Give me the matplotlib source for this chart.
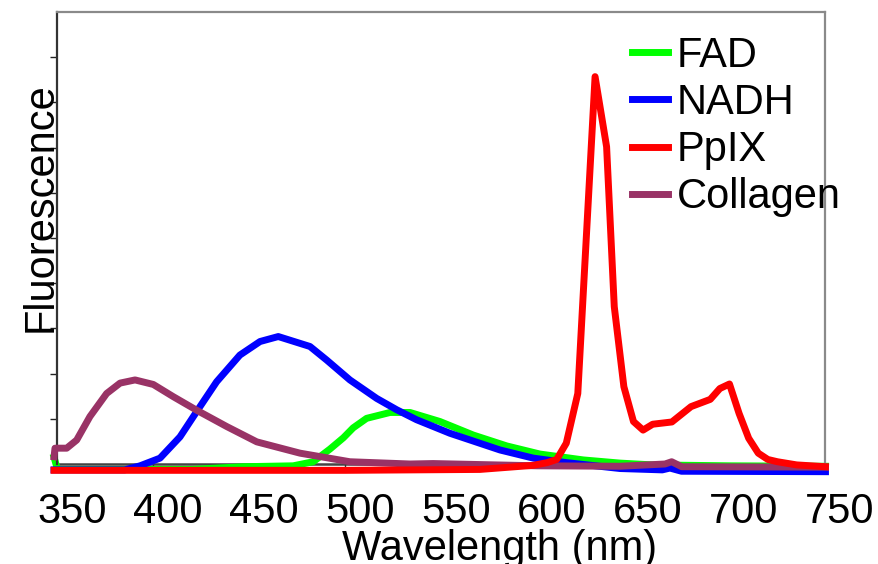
import numpy as np
import matplotlib
matplotlib.use('Agg')
import matplotlib.pyplot as plt
import matplotlib.transforms as mtransforms
from matplotlib.lines import Line2D

plt.rcParams['font.family'] = ['Liberation Sans', 'DejaVu Sans']

# FAD emission
fad_wl = [348.2, 350, 380, 420, 446.8, 472.8, 483.2, 491.9, 498.9, 504, 511, 523.2, 533.6,
          549.2, 566.6, 584, 601.3, 623.9, 643, 660, 700, 750]
fad_val = [0.015, -0.012, -0.012, -0.012, -0.006, -0.004, 0.005, 0.033, 0.058, 0.080, 0.101, 0.114, 0.114,
           0.094, 0.064, 0.040, 0.022, 0.009, 0.002, -0.002, -0.004, -0.005]

# NADH emission
nadh_wl = [348.2, 385, 393, 403.4, 413.8, 422.5, 432.9, 445, 455.5, 465, 481.5, 490.2, 502.3,
           516.3, 526.7, 537, 554.4, 580.5, 597.8, 615.2, 643, 665, 669, 675, 750]
nadh_val = [-0.013, -0.013, -0.004, 0.013, 0.060, 0.116, 0.182, 0.241, 0.271, 0.282, 0.260, 0.230, 0.186,
            0.145, 0.120, 0.098, 0.068, 0.031, 0.013, 0.003, -0.010, -0.013, -0.009, -0.016, -0.017]

# PpIX emission
ppix_wl = [348.2, 400, 500, 570, 597.7, 605, 610, 615, 621, 630, 636, 640, 645, 650, 655, 660,
           670, 680, 690, 695, 700, 705, 710, 715, 720, 725, 735, 750]
ppix_val = [-0.014, -0.014, -0.014, -0.012, -0.003, 0.003, 0.010, 0.046, 0.156, 0.857, 0.702, 0.348,
            0.171, 0.094, 0.075, 0.088, 0.093, 0.127, 0.143, 0.167, 0.177, 0.112, 0.057, 0.024,
            0.010, 0.005, -0.002, -0.006]

# Collagen emission
coll_wl = [348.2, 348.7, 354.8, 360, 366.9, 375.6, 382.6, 390.4, 399.9, 410.3, 422.5, 438.1, 453.8,
           476.3, 502.3, 533.6, 545.6, 600, 643, 666.4, 669.9, 675.1, 750]
coll_val = [0.016, 0.035, 0.035, 0.053, 0.105, 0.156, 0.179, 0.186, 0.176, 0.149, 0.119, 0.083, 0.049,
            0.024, 0.005, 0.000, 0.001, -0.004, -0.005, 0.000, 0.005, -0.006, -0.007]

labels = ['FAD', 'NADH', 'PpIX', 'Collagen']
colors = ['#00ff00', '#0000ff', '#ff0000', '#993366']

fig = plt.figure(figsize=(8.79, 5.64), dpi=100)
ax = fig.add_axes([0.0654, 0.1773, 0.8737, 0.8014])

lw = 5
ax.plot(fad_wl, fad_val, color=colors[0], lw=lw, clip_on=False, zorder=2)
ax.plot(nadh_wl, nadh_val, color=colors[1], lw=lw, clip_on=False, zorder=3)
ax.plot(coll_wl, coll_val, color=colors[3], lw=lw, clip_on=False, zorder=4)
ax.plot(ppix_wl, ppix_val, color=colors[2], lw=lw, clip_on=False, zorder=5)

ax.set_xlim(350, 750)
ax.set_ylim(0, 1.0)
ax.set_xticks(np.arange(350, 751, 50))
ax.set_yticks(np.arange(0.1, 0.95, 0.1))
ax.set_yticklabels([])
ax.tick_params(axis='y', direction='out', length=5, width=1, color='#222222')
ax.tick_params(axis='x', direction='out', length=2, width=1, pad=18, labelsize=30, color='#333333')

# tick labels sit a bit right of their ticks
offset = mtransforms.ScaledTranslation(0.145, 0, fig.dpi_scale_trans)
for lab in ax.get_xticklabels():
    lab.set_transform(lab.get_transform() + offset)

for side in ['top', 'right']:
    ax.spines[side].set_color('#8a8a8a')
    ax.spines[side].set_linewidth(1.6)
ax.spines['left'].set_color('#333333')
ax.spines['left'].set_linewidth(1.6)
ax.spines['bottom'].set_color('#444444')
ax.spines['bottom'].set_linewidth(1.8)
ax.spines['bottom'].set_zorder(1)

ax.set_xlabel('Wavelength (nm)', fontsize=30)
ax.xaxis.set_label_coords(0.576, -0.143)
ax.set_ylabel('Fluorescence', fontsize=30)
ax.yaxis.set_label_coords(0.004, 0.569)

handles = [Line2D([], [], color=c, lw=lw) for c in colors]
ax.legend(handles, labels, loc='upper left', bbox_to_anchor=(0.748, 0.947), frameon=False,
          fontsize=30, handlelength=0.87, handletextpad=0.2, labelspacing=0.17,
          borderpad=0, borderaxespad=0)

fig.savefig('out.png', dpi=100)
